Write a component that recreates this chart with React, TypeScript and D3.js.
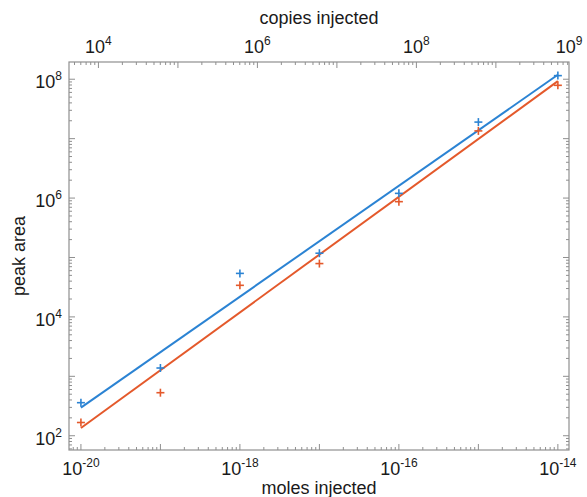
import React from 'react';
import * as d3 from 'd3';

// moles injected (x) and measured peak areas for the two series
const moles = [1e-20, 1e-19, 1e-18, 1e-17, 1e-16, 1e-15, 1e-14];
const blueArea = [360, 1380, 5.4e4, 1.18e5, 1.2e6, 1.9e7, 1.15e8];
const orangeArea = [167, 530, 3.4e4, 7.9e4, 8.7e5, 1.35e7, 7.9e7];

const bottomLabels = [-20, -18, -16, -14];
const leftLabels = [2, 4, 6, 8];
const topLabels = [4, 6, 8];
const topEndLabel = 9;

const AVOGADRO = 6.022e23;
const W = 587;
const H = 497;
const BLUE = '#2b83d3';
const ORANGE = '#e4592b';
const AXIS = '#8f8f8f';
const FONT = '"Liberation Sans", Arial, Helvetica, sans-serif';

// least squares fit in log-log space
const fitLog = (xs: number[], ys: number[]) => {
  const lx = xs.map(Math.log10);
  const ly = ys.map(Math.log10);
  const mx = d3.mean(lx)!;
  const my = d3.mean(ly)!;
  const sxy = d3.sum(lx, (v, i) => (v - mx) * (ly[i] - my));
  const sxx = d3.sum(lx, v => (v - mx) ** 2);
  const slope = sxy / sxx;
  const icpt = my - slope * mx;
  return (x: number) => Math.pow(10, icpt + slope * Math.log10(x));
};

const Pow = ({ x, y, exp, anchor }: { x: number; y: number; exp: number | string; anchor: string }) => (
  <text x={x} y={y} textAnchor={anchor} fontFamily={FONT} fontSize={18} fill="#1a1a1a">
    10<tspan fontSize={12} dy={-8}>{exp}</tspan>
  </text>
);

const App = () => {
  const left = 69, right = 569, top = 62, bottom = 450;

  const x = d3.scaleLog().domain([Math.pow(10, -20.15), Math.pow(10, -13.86)]).range([left, right]);
  const y = d3.scaleLog().domain([Math.pow(10, 1.76), Math.pow(10, 8.29)]).range([bottom, top]);
  const xTop = d3.scaleLog()
    .domain(x.domain().map(d => d * AVOGADRO))
    .range([left, right]);

  const isMajor = (v: number) => Math.abs(Math.log10(v) - Math.round(Math.log10(v))) < 1e-6;
  const tlen = (v: number) => (isMajor(v) ? 6 : 3);

  const series = [
    { vals: blueArea, color: BLUE },
    { vals: orangeArea, color: ORANGE },
  ];

  const m = 4; // half size of + marker

  return (
    <svg width={W} height={H} style={{ position: 'absolute', left: 0, top: 0, background: '#fff' }}>
      <rect x={0} y={0} width={W} height={H} fill="#fff" />

      {/* fit lines */}
      {series.map((s, i) => {
        const f = fitLog(moles, s.vals);
        const x0 = moles[0], x1 = moles[moles.length - 1];
        return (
          <line key={'l' + i} x1={x(x0)} y1={y(f(x0))} x2={x(x1)} y2={y(f(x1))}
            stroke={s.color} strokeWidth={2} />
        );
      })}

      {/* markers */}
      {series.map((s, i) => (
        <g key={'m' + i} stroke={s.color} strokeWidth={1.6}>
          {moles.map((mv, j) => {
            const cx = x(mv), cy = y(s.vals[j]);
            return (
              <g key={j}>
                <line x1={cx - m} x2={cx + m} y1={cy} y2={cy} />
                <line x1={cx} x2={cx} y1={cy - m} y2={cy + m} />
              </g>
            );
          })}
        </g>
      ))}

      {/* box */}
      <rect x={left} y={top} width={right - left} height={bottom - top} fill="none" stroke={AXIS} strokeWidth={1.2} />

      {/* bottom ticks */}
      {x.ticks().map((v, i) => (
        <line key={'bt' + i} x1={x(v)} x2={x(v)} y1={bottom} y2={bottom - tlen(v)} stroke={AXIS} />
      ))}
      {/* top ticks (copies) */}
      {xTop.ticks().map((v, i) => (
        <line key={'tt' + i} x1={xTop(v)} x2={xTop(v)} y1={top} y2={top + tlen(v)} stroke={AXIS} />
      ))}
      {/* left & right ticks */}
      {y.ticks().map((v, i) => (
        <g key={'yt' + i} stroke={AXIS}>
          <line x1={left} x2={left + tlen(v)} y1={y(v)} y2={y(v)} />
          <line x1={right} x2={right - tlen(v)} y1={y(v)} y2={y(v)} />
        </g>
      ))}

      {/* tick labels */}
      {bottomLabels.map(e => (
        <Pow key={'bl' + e} x={x(Math.pow(10, e))} y={bottom + 25} exp={e} anchor="middle" />
      ))}
      {leftLabels.map(e => (
        <Pow key={'ll' + e} x={left - 7} y={y(Math.pow(10, e)) + 9} exp={e} anchor="end" />
      ))}
      {topLabels.map(e => (
        <Pow key={'tl' + e} x={xTop(Math.pow(10, e))} y={top - 9} exp={e} anchor="middle" />
      ))}
      <Pow x={xTop.range()[1]} y={top - 9} exp={topEndLabel} anchor="middle" />

      {/* axis titles */}
      <text x={(left + right) / 2} y={494} textAnchor="middle" fontFamily={FONT} fontSize={18} fill="#1a1a1a">
        moles injected
      </text>
      <text x={(left + right) / 2} y={24} textAnchor="middle" fontFamily={FONT} fontSize={18} fill="#1a1a1a">
        copies injected
      </text>
      <text transform={`translate(25,${(top + bottom) / 2}) rotate(-90)`} textAnchor="middle"
        fontFamily={FONT} fontSize={18} fill="#1a1a1a">
        peak area
      </text>
    </svg>
  );
};

export default App;
